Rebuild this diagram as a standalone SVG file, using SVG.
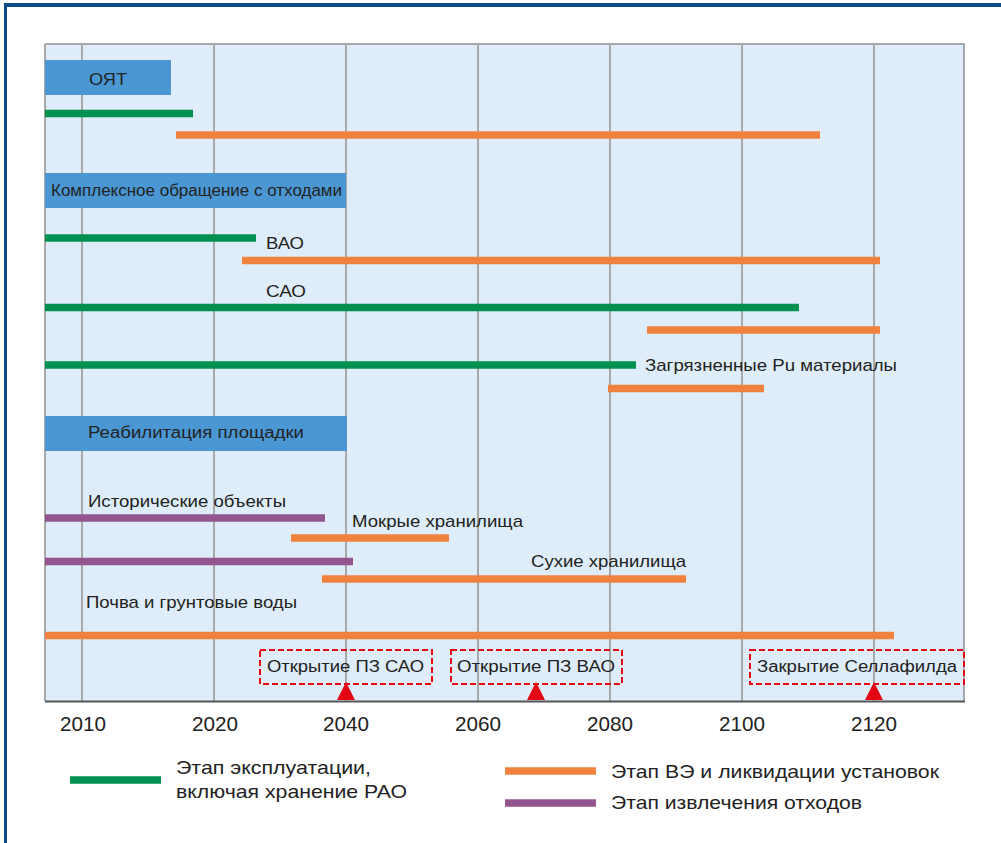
<svg xmlns="http://www.w3.org/2000/svg" width="1001" height="843" viewBox="0 0 1001 843">
<style>
text{font-family:"Liberation Sans",Arial,sans-serif;fill:#222}
.lbl{font-size:17px}
.hdr{font-size:16px}
.ms-t{font-size:16px}
.ax{font-size:20.5px}
.leg{font-size:18.5px}
.grid{stroke:#a9a9a9;stroke-width:2}
.g{stroke:#00904f;stroke-width:7.5}
.o{stroke:#f0823e;stroke-width:7.5}
.p{stroke:#93558e;stroke-width:7.5}
.ms{fill:none;stroke:#e30613;stroke-width:2;stroke-dasharray:6,3}
.tri{fill:#e30613}
.hb{fill:#4a97d3}
</style>
<rect x="0" y="0" width="1001" height="843" fill="#fff"/>
<g id="frame">
<line x1="4" y1="5" x2="1001" y2="5" stroke="#0b4b8c" stroke-width="4"/>
<line x1="5.5" y1="3" x2="5.5" y2="843" stroke="#0b4b8c" stroke-width="3"/>
</g>
<g id="chart">
<rect x="45" y="44" width="919" height="657" fill="#deedf9"/>
<line x1="45" y1="44" x2="965" y2="44" class="grid"/>
<line x1="964" y1="44" x2="964" y2="701" class="grid"/>
<line x1="45" y1="44" x2="45" y2="701" class="grid" stroke-width="1.5"/>
<line x1="82" y1="44" x2="82" y2="701" class="grid"/>
<line x1="214" y1="44" x2="214" y2="701" class="grid"/>
<line x1="346" y1="44" x2="346" y2="701" class="grid"/>
<line x1="478" y1="44" x2="478" y2="701" class="grid"/>
<line x1="610" y1="44" x2="610" y2="701" class="grid"/>
<line x1="742" y1="44" x2="742" y2="701" class="grid"/>
<line x1="874" y1="44" x2="874" y2="701" class="grid"/>
<line x1="45" y1="701.5" x2="965" y2="701.5" stroke="#555" stroke-width="2"/>
</g>
<g id="axis">
<text class="ax" x="60" y="731" textLength="46" lengthAdjust="spacingAndGlyphs">2010</text>
<text class="ax" x="192" y="731" textLength="46" lengthAdjust="spacingAndGlyphs">2020</text>
<text class="ax" x="323" y="731" textLength="46" lengthAdjust="spacingAndGlyphs">2040</text>
<text class="ax" x="455" y="731" textLength="46" lengthAdjust="spacingAndGlyphs">2060</text>
<text class="ax" x="587" y="731" textLength="46" lengthAdjust="spacingAndGlyphs">2080</text>
<text class="ax" x="719" y="731" textLength="46" lengthAdjust="spacingAndGlyphs">2100</text>
<text class="ax" x="851" y="731" textLength="46" lengthAdjust="spacingAndGlyphs">2120</text>
</g>
<g id="hdr-oyat">
<rect class="hb" x="45" y="60" width="126" height="35"/>
<text class="hdr" x="89" y="84.5" font-size="17" textLength="38" lengthAdjust="spacingAndGlyphs">ОЯТ</text>
</g>
<g id="hdr-waste">
<rect class="hb" x="45" y="173" width="301" height="35"/>
<text class="hdr" x="51" y="196" textLength="291" lengthAdjust="spacingAndGlyphs">Комплексное обращение с отходами</text>
</g>
<g id="hdr-rehab">
<rect class="hb" x="45" y="416" width="302" height="35"/>
<text class="hdr" x="88" y="438" font-size="17" textLength="216" lengthAdjust="spacingAndGlyphs">Реабилитация площадки</text>
</g>
<g id="bars">
<line class="g" x1="45" y1="113.5" x2="193" y2="113.5"/>
<line class="o" x1="176" y1="135" x2="820" y2="135"/>
<line class="g" x1="45" y1="238" x2="256" y2="238"/>
<line class="o" x1="242" y1="260.5" x2="880" y2="260.5"/>
<line class="g" x1="45" y1="307.5" x2="799" y2="307.5"/>
<line class="o" x1="647" y1="330" x2="880" y2="330"/>
<line class="g" x1="45" y1="365" x2="636" y2="365"/>
<line class="o" x1="608" y1="388.5" x2="764" y2="388.5"/>
<line class="p" x1="45" y1="518" x2="325" y2="518"/>
<line class="o" x1="291" y1="538" x2="449" y2="538"/>
<line class="p" x1="45" y1="561.5" x2="353" y2="561.5"/>
<line class="o" x1="322" y1="579" x2="686" y2="579"/>
<line class="o" x1="45" y1="635.5" x2="894" y2="635.5"/>
</g>
<g id="labels">
<text class="lbl" x="266" y="249" textLength="38" lengthAdjust="spacingAndGlyphs">ВАО</text>
<text class="lbl" x="266" y="297" textLength="40" lengthAdjust="spacingAndGlyphs">САО</text>
<text class="lbl" x="645" y="371" textLength="252" lengthAdjust="spacingAndGlyphs">Загрязненные Pu материалы</text>
<text class="lbl" x="88" y="507" textLength="198" lengthAdjust="spacingAndGlyphs">Исторические объекты</text>
<text class="lbl" x="352" y="527" textLength="171" lengthAdjust="spacingAndGlyphs">Мокрые хранилища</text>
<text class="lbl" x="531" y="567" textLength="155" lengthAdjust="spacingAndGlyphs">Сухие хранилища</text>
<text class="lbl" x="86" y="608" textLength="211" lengthAdjust="spacingAndGlyphs">Почва и грунтовые воды</text>
</g>
<g id="milestone-sao">
<rect class="ms" x="260" y="650" width="172" height="34"/>
<text class="ms-t" x="267" y="672" textLength="157" lengthAdjust="spacingAndGlyphs">Открытие ПЗ САО</text>
<polygon class="tri" points="346,682 337,700 355,700"/>
</g>
<g id="milestone-vao">
<rect class="ms" x="451" y="650" width="171" height="34"/>
<text class="ms-t" x="457" y="672" textLength="158" lengthAdjust="spacingAndGlyphs">Открытие ПЗ ВАО</text>
<polygon class="tri" points="536,682 527,700 545,700"/>
</g>
<g id="milestone-close">
<rect class="ms" x="750" y="650" width="214" height="34"/>
<text class="ms-t" x="757" y="672" textLength="200" lengthAdjust="spacingAndGlyphs">Закрытие Селлафилда</text>
<polygon class="tri" points="874,682 865,700 883,700"/>
</g>
<g id="legend">
<line class="g" x1="70" y1="780" x2="161" y2="780"/>
<text class="leg" x="176" y="774" textLength="195" lengthAdjust="spacingAndGlyphs">Этап эксплуатации,</text>
<text class="leg" x="176" y="798" textLength="231" lengthAdjust="spacingAndGlyphs">включая хранение РАО</text>
<line class="o" x1="505" y1="771" x2="596" y2="771"/>
<text class="leg" x="611" y="778" textLength="328" lengthAdjust="spacingAndGlyphs">Этап ВЭ и ликвидации установок</text>
<line class="p" x1="505" y1="803" x2="596" y2="803"/>
<text class="leg" x="611" y="809" textLength="251" lengthAdjust="spacingAndGlyphs">Этап извлечения отходов</text>
</g>
</svg>
